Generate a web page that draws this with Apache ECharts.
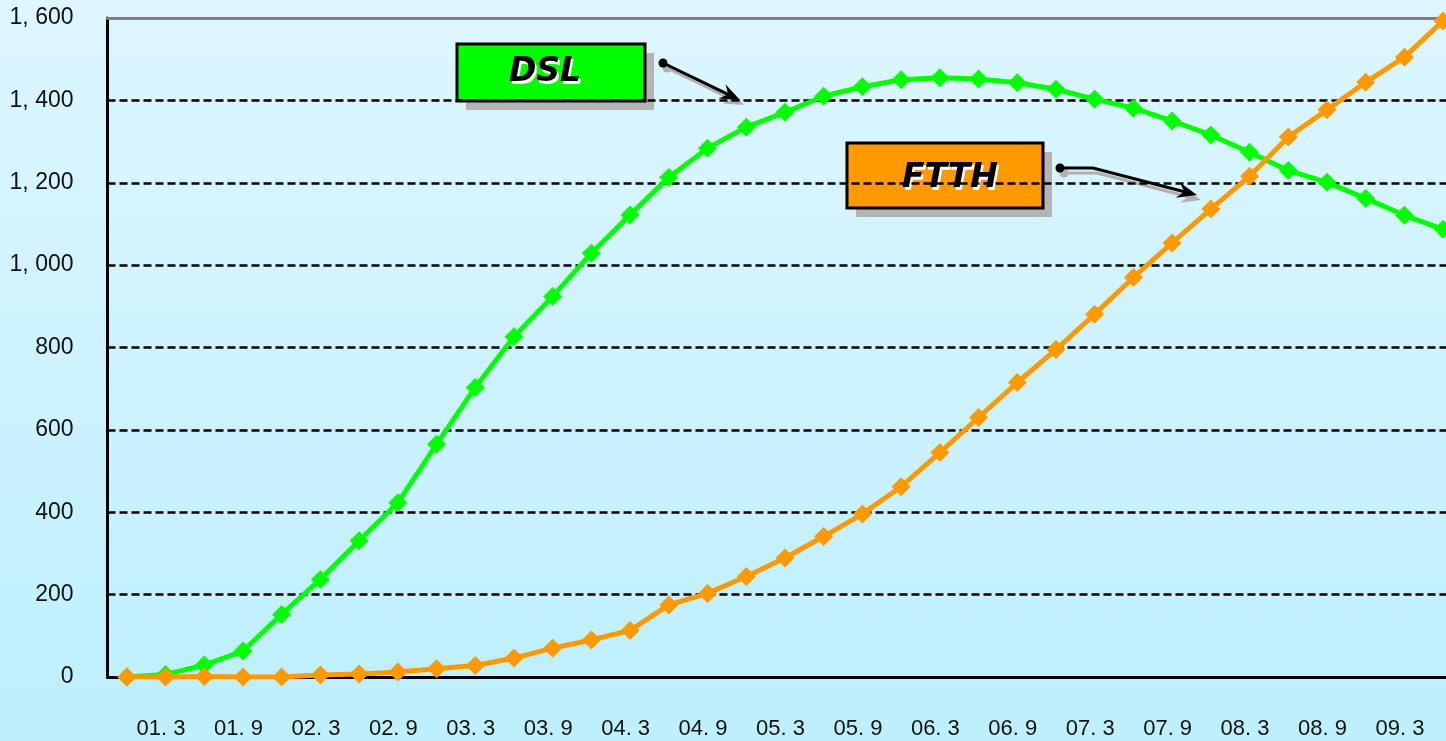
<!DOCTYPE html>
<html>
<head>
<meta charset="utf-8">
<script src="https://cdn.jsdelivr.net/npm/echarts@6/dist/echarts.min.js"></script>
<style>
  html, body { margin: 0; padding: 0; overflow: hidden; }
  /* the plot runs past the right edge of the frame, as in the source picture */
  #chart { width: 1463px; height: 741px; }
</style>
</head>
<body>
<div id="chart"></div>
<script>
// quarterly, 00.12 .. 09.6
const months = [
  '00.12', '01.3', '01.6', '01.9', '01.12', '02.3', '02.6', '02.9', '02.12',
  '03.3', '03.6', '03.9', '03.12', '04.3', '04.6', '04.9', '04.12',
  '05.3', '05.6', '05.9', '05.12', '06.3', '06.6', '06.9', '06.12',
  '07.3', '07.6', '07.9', '07.12', '08.3', '08.6', '08.9', '08.12',
  '09.3', '09.6'
];

const dsl = [
  0, 6, 29, 63, 152, 237, 331, 423, 565, 703, 826, 924, 1029, 1122, 1213, 1284,
  1335, 1371, 1410, 1433, 1450, 1455, 1452, 1443, 1427, 1403, 1381, 1350, 1316,
  1274, 1230, 1201, 1162, 1121, 1087
];

const ftth = [
  0, 0, 1, 0, 0, 5, 7, 12, 20, 28, 46, 70, 90, 113, 175, 203, 244, 289, 341,
  396, 462, 545, 630, 715, 795, 881, 970, 1054, 1136, 1216, 1311, 1377, 1444,
  1505, 1593
];

const yTicks = [0, 200, 400, 600, 800, 1000, 1200, 1400, 1600];

const chart = echarts.init(document.getElementById('chart'));

const labelFont = '"Liberation Sans", sans-serif';

// arrow callout: dot at start, polyline, filled head at the end
const arrow = (pts, color, dx, dy) => {
  const p = pts.map(([x, y]) => [x + dx, y + dy]);
  const [tx, ty] = p[p.length - 1];
  const [px, py] = p[p.length - 2];
  const len = Math.hypot(tx - px, ty - py);
  const ux = (tx - px) / len, uy = (ty - py) / len;
  const nx = -uy, ny = ux;
  const L = 20, W = 16;
  const head = [
    [tx, ty],
    [tx - ux * L + nx * W / 2, ty - uy * L + ny * W / 2],
    [tx - ux * L * 0.65, ty - uy * L * 0.65],
    [tx - ux * L - nx * W / 2, ty - uy * L - ny * W / 2]
  ];
  return [
    { type: 'polyline', shape: { points: p.slice(0, -1).concat([[tx - ux * 8, ty - uy * 8]]) },
      style: { stroke: color, lineWidth: 3, fill: null } },
    { type: 'polygon', shape: { points: head }, style: { fill: color } },
    { type: 'circle', shape: { cx: p[0][0], cy: p[0][1], r: 4.5 }, style: { fill: color } }
  ];
};

const calloutFont = 'italic bold 33px "DejaVu Sans", sans-serif';

const callout = (text, fill, x, y, w, h, tx, ty) => [
  { type: 'rect', shape: { x: x + 9, y: y + 9, width: w, height: h }, style: { fill: '#b4b4b4' } },
  { type: 'rect', shape: { x: x, y: y, width: w, height: h },
    style: { fill: fill, stroke: '#000', lineWidth: 3 } },
  { type: 'text', x: tx + 2, y: ty + 3,
    style: { text: text, fill: '#fff', font: calloutFont, align: 'center', verticalAlign: 'middle' } },
  { type: 'text', x: tx, y: ty,
    style: { text: text, fill: '#000', font: calloutFont, align: 'center', verticalAlign: 'middle' } }
];

const graphics = [].concat(
  arrow([[663, 63], [740, 100]], '#b0b0b0', 4, 5),
  arrow([[663, 63], [740, 100]], '#000', 0, 0),
  callout('DSL', '#00ff00', 457, 44, 188, 57, 545, 72),
  arrow([[1060, 168], [1093, 168], [1197, 195]], '#b0b0b0', 4, 5),
  arrow([[1060, 168], [1093, 168], [1197, 195]], '#000', 0, 0),
  callout('FTTH', '#ff9900', 847, 143, 196, 65, 950, 178)
);

const option = {
  animation: false,
  backgroundColor: new echarts.graphic.LinearGradient(0, 0, 0, 1, [
    { offset: 0, color: '#ddf6ff' },
    { offset: 1, color: '#bdeffd' }
  ]),
  grid: { left: 107.5, top: 18, width: 1355, height: 659 },
  xAxis: [
    {
      type: 'category',
      data: months,
      boundaryGap: true,
      axisLine: { lineStyle: { color: '#000', width: 3 } },
      axisTick: { inside: true, length: 5, lineStyle: { color: '#000', width: 2 } },
      axisLabel: {
        interval: (i) => i % 2 === 1,
        formatter: (v) => v.replace('.', '. '),
        margin: 41,
        padding: [0, 9, 0, 0],
        color: '#111',
        fontSize: 22,
        fontFamily: labelFont
      },
      splitLine: { show: false }
    },
    {
      type: 'category',
      data: months,
      position: 'top',
      axisLine: { onZero: false, lineStyle: { color: '#7f7f7f', width: 3 } },
      axisTick: { show: false },
      axisLabel: { show: false },
      splitLine: { show: false }
    }
  ],
  yAxis: {
    type: 'value',
    min: yTicks[0],
    max: yTicks[yTicks.length - 1],
    interval: 200,
    axisLine: { show: true, lineStyle: { color: '#000', width: 3 } },
    axisTick: { show: false },
    axisLabel: {
      margin: 34,
      color: '#111',
      fontSize: 23,
      fontFamily: labelFont,
      formatter: (v) => v >= 1000 ? Math.floor(v / 1000) + ', ' + String(v % 1000).padStart(3, '0') : String(v)
    },
    splitLine: {
      showMaxLine: false,
      showMinLine: false,
      lineStyle: { color: '#000', width: 2.5, type: [8, 4] }
    }
  },
  series: [
    {
      name: 'DSL',
      type: 'line',
      data: dsl,
      symbol: 'diamond',
      symbolSize: 19,
      lineStyle: { color: '#00ff00', width: 5 },
      itemStyle: { color: '#00ff00' },
      z: 2
    },
    {
      name: 'FTTH',
      type: 'line',
      data: ftth,
      symbol: 'diamond',
      symbolSize: 19,
      lineStyle: { color: '#ff9900', width: 5 },
      itemStyle: { color: '#ff9900' },
      z: 3
    }
  ],
  graphic: { elements: graphics }
};

chart.setOption(option);
</script>
</body>
</html>
